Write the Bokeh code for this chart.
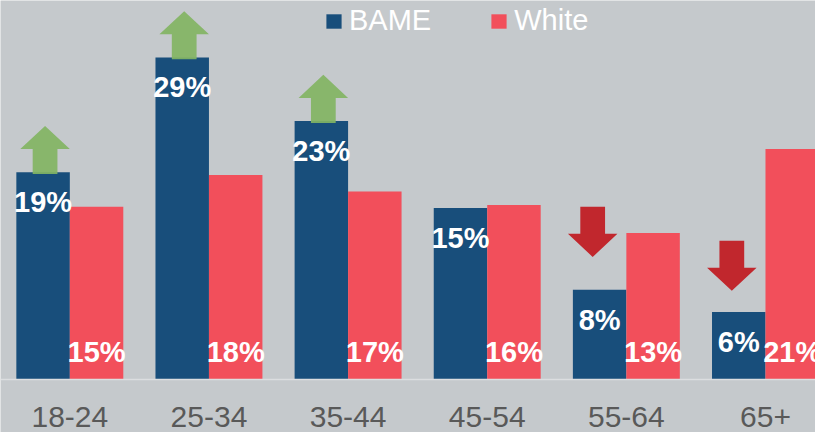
from bokeh.plotting import figure
from bokeh.models import ColumnDataSource, Legend, LegendItem, Span
from bokeh.core.properties import value
from bokeh.embed import file_html
from bokeh.resources import INLINE

# ---- data ----
categories = ["18-24", "25-34", "35-44", "45-54", "55-64", "65+"]
bame = [18.53, 28.79, 23.10, 15.34, 8.02, 6.03]
white = [15.43, 18.28, 16.81, 15.60, 13.10, 20.60]
up_arrow_groups = [0, 1, 2]
down_arrow_groups = [4, 5]

# ---- styles ----
BG = "#C5C9CC"
BLUE = "#184E7B"
RED = "#F24F5B"
GREEN = "#82B463"
DARKRED = "#C1272D"
FONT = "Liberation Sans"

W, H = 815, 432
RW, RH = 823, 448          # reference frame the layout is measured in
SY = H / RH
KX = 140.5   # reference px per category
KY = 11.6    # reference px per percent
BW = 54 / KX
x0 = -70 / KX
y_top = 393 / KY
y_bot = -(RH - 393) / KY

p = figure(width=W, height=H, output_backend="svg", toolbar_location=None,
           x_range=(x0, x0 + RW / KX), y_range=(y_bot, y_top),
           min_border=0, min_border_left=0, min_border_right=0,
           min_border_top=0, min_border_bottom=0)
p.background_fill_color = BG
p.border_fill_color = BG
p.outline_line_color = None
p.axis.visible = False
p.grid.visible = False

idx = list(range(len(categories)))
xb = [i - BW / 2 for i in idx]
xw = [i + BW / 2 for i in idx]

src = ColumnDataSource(dict(
    xb=xb, xw=xw, xc=idx, bame=bame, white=white, cat=categories,
    bl=[f"{round(v)}%" for v in bame], wl=[f"{round(v)}%" for v in white],
    zero=[0] * len(idx)))

rb = p.vbar(x="xb", top="bame", width=BW, source=src, fill_color=BLUE, line_color=None)
rw = p.vbar(x="xw", top="white", width=BW, source=src, fill_color=RED, line_color=None)

p.add_layout(Span(location=0, dimension="width", line_color="#DCDEE0", line_width=1.5))

# arrows (offsets given in reference pixels)
def dx(px):
    return px / KX

def dy(px):
    return px / KY

ux, uy = [], []
for g in up_arrow_groups:
    cx = xb[g] + dx(2)
    top = bame[g]
    tip = top + dy(48)
    hb = top + dy(24)
    sb = top - dy(2)
    ux.append([cx, cx + dx(25), cx + dx(12.5), cx + dx(12.5), cx - dx(12.5), cx - dx(12.5), cx - dx(25)])
    uy.append([tip, hb, hb, sb, sb, hb, hb])
p.patches(ux, uy, fill_color=GREEN, fill_alpha=0.92, line_color=None)

gaps_px = [34, 22]
dxs, dys = [], []
for g, gap in zip(down_arrow_groups, gaps_px):
    cx = xb[g] - dx(7)
    tip = bame[g] + dy(gap)
    hb = tip + dy(24)
    st = tip + dy(52)
    dxs.append([cx, cx + dx(25), cx + dx(12.5), cx + dx(12.5), cx - dx(12.5), cx - dx(12.5), cx - dx(25)])
    dys.append([tip, hb, hb, st, st, hb, hb])
p.patches(dxs, dys, fill_color=DARKRED, line_color=None)

# labels
p.text(x="xb", y="bame", text="bl", source=src, text_color="white",
       text_font=value(FONT), text_font_style="bold", text_font_size="29px",
       text_align="center", text_baseline="middle", y_offset=31 * SY)
p.text(x="xw", y="zero", text="wl", source=src, text_color="white",
       text_font=value(FONT), text_font_style="bold", text_font_size="29px",
       text_align="center", text_baseline="middle", y_offset=-28 * SY)
p.text(x="xc", y="zero", text="cat", source=src, text_color="#595959",
       text_font=value(FONT), text_font_size="30px",
       text_align="center", text_baseline="middle", y_offset=38.5 * SY)

legend = Legend(items=[LegendItem(label="BAME", renderers=[rb]),
                       LegendItem(label="White", renderers=[rw])],
                orientation="horizontal", location=(324, 395),
                label_text_font=FONT, label_text_font_size="29px",
                label_text_color="white", glyph_width=19, glyph_height=18,
                label_standoff=6, spacing=58, padding=0, margin=0,
                background_fill_alpha=0, border_line_color=None)
p.add_layout(legend)

open("out.html", "w").write(file_html(p, INLINE))
